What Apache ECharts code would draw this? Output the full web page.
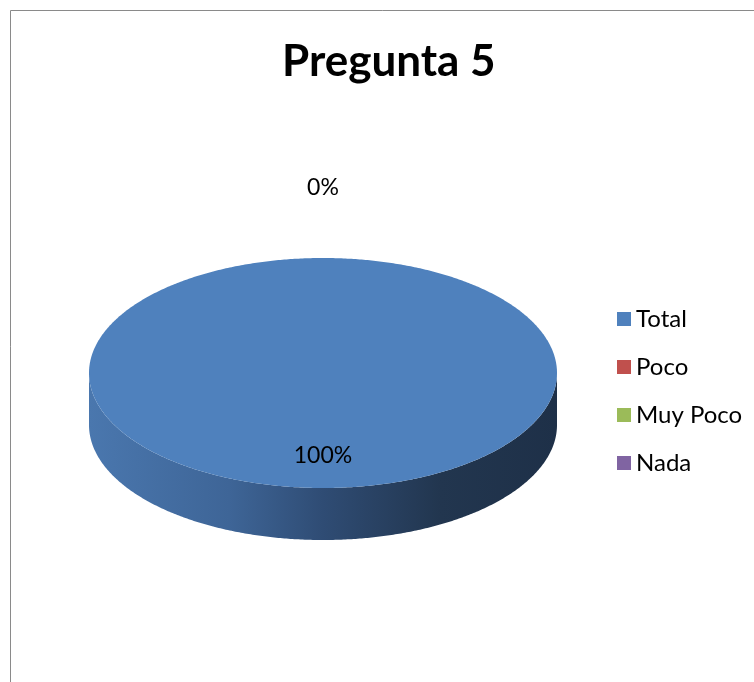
<!DOCTYPE html>
<html><head><meta charset="utf-8">
<script src="https://cdn.jsdelivr.net/npm/echarts@6/dist/echarts.min.js"></script>
<style>html,body{margin:0;padding:0;background:#fff}#chart{width:754px;height:682px}</style>
</head><body><div id="chart"></div>
<script>
const chartTitle = 'Pregunta 5';
const categories = ['Total', 'Poco', 'Muy Poco', 'Nada'];
const values = [100, 0, 0, 0];
const colors = ['#4F81BD', '#C0504D', '#9BBB59', '#8064A2'];

const FONT = 'Lato';
const total = values.reduce((a, b) => a + b, 0);
const PIE = { cx: 323, cy: 373, rx: 234, ry: 115, depth: 52, inLabel: 0.72, outLabel: 1.61 };

function pt(theta, dy, k) {
  k = k || 1;
  return [PIE.cx + PIE.rx * k * Math.sin(theta), PIE.cy - PIE.ry * k * Math.cos(theta) + (dy || 0)];
}
function arcPoints(a0, a1, dy) {
  const n = Math.max(2, Math.ceil((a1 - a0) / (Math.PI / 360)));
  const pts = [];
  for (let i = 0; i <= n; i++) pts.push(pt(a0 + (a1 - a0) * i / n, dy));
  return pts;
}
function renderSlice(params, api) {
  const i = params.seriesIndex;
  const v = api.value(0);
  let before = 0;
  for (let k = 0; k < i; k++) before += values[k];
  const a0 = before / total * 2 * Math.PI;
  const a1 = (before + v) / total * 2 * Math.PI;
  const children = [];
  const s0 = Math.max(a0, Math.PI / 2), s1 = Math.min(a1, 3 * Math.PI / 2);
  if (v > 0 && s1 > s0) {
    const top = arcPoints(s0, s1, 0);
    const bot = arcPoints(s0, s1, PIE.depth).reverse();
    children.push({
      type: 'polygon',
      shape: { points: top.concat(bot) },
      style: {
        fill: new echarts.graphic.LinearGradient(0, 0, 1, 0, [
          { offset: 0, color: '#4A77AE' },
          { offset: 0.3, color: '#3E6597' },
          { offset: 0.5, color: '#2F4C74' },
          { offset: 0.75, color: '#22364F' },
          { offset: 1, color: '#1E3048' }
        ])
      }
    });
  }
  if (v > 0) {
    let pts = arcPoints(a0, a1, 0);
    if (a1 - a0 < 2 * Math.PI - 1e-9) pts = [[PIE.cx, PIE.cy]].concat(pts);
    children.push({ type: 'polygon', shape: { points: pts }, style: { fill: colors[i] } });
  }
  const dup = v === 0 && i > 0 && values[i - 1] === 0;
  if (!dup) {
    const mid = (a0 + a1) / 2;
    const p = pt(mid, 0, v > 0 ? PIE.inLabel : PIE.outLabel);
    children.push({
      type: 'text', x: p[0], y: p[1], z2: 10,
      style: {
        text: Math.round(v / total * 100) + '%',
        fill: '#000', fontSize: 23, fontFamily: FONT,
        align: 'center', verticalAlign: 'middle'
      }
    });
  }
  return { type: 'group', children: children };
}

const chart = echarts.init(document.getElementById('chart'));
chart.setOption({
  animation: false,
  backgroundColor: '#fff',
  title: {
    text: chartTitle, left: 277, top: 35,
    textStyle: { fontFamily: FONT, fontWeight: 'bold', fontSize: 44, color: '#000' }
  },
  legend: {
    orient: 'vertical', left: 612, top: 302,
    icon: 'rect', itemWidth: 14, itemHeight: 14, itemGap: 24,
    data: categories,
    textStyle: { fontFamily: FONT, fontSize: 24, lineHeight: 24, color: '#000' }
  },
  graphic: [{
    type: 'rect', silent: true,
    shape: { x: 10.5, y: 10.5, width: 900, height: 900 },
    style: { fill: null, stroke: '#8A8A8A', lineWidth: 1 }
  }],
  series: categories.map((name, i) => ({
    type: 'custom', name: name, coordinateSystem: 'none',
    itemStyle: { color: colors[i] },
    renderItem: renderSlice,
    data: [[values[i]]]
  }))
});
</script></body></html>
